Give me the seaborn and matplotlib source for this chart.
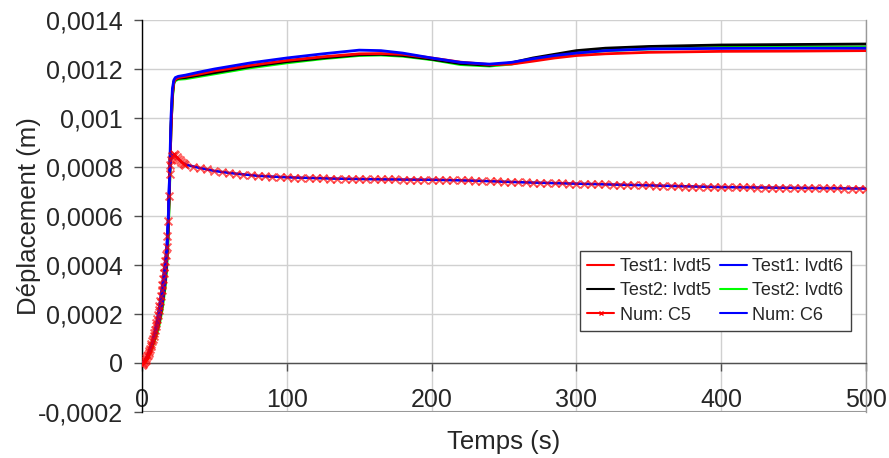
import numpy as np
import pandas as pd
import matplotlib
matplotlib.use("Agg")
import matplotlib.pyplot as plt
from matplotlib.lines import Line2D
import seaborn as sns

# values are in 1e-4 m, converted to m below
test_time = [0, 2, 4, 6, 8, 10, 12, 14, 16, 17, 18, 19, 20, 21, 22, 23, 25, 30, 40, 50,
             75, 100, 125, 150, 165, 180, 200, 220, 240, 255, 270, 285, 300, 320, 350, 400, 450, 500]
test1_lvdt5 = [0, 0.08, 0.3, 0.6, 0.95, 1.35, 1.8, 2.5, 3.4, 4.2, 5.5, 7.3, 9.5, 11.0, 11.45, 11.58, 11.65, 11.7, 11.8, 11.92,
               12.15, 12.35, 12.5, 12.62, 12.63, 12.6, 12.45, 12.28, 12.18, 12.2, 12.32, 12.45, 12.55, 12.62, 12.68, 12.72, 12.73, 12.75]
test1_lvdt6 = [0, 0.08, 0.3, 0.6, 0.95, 1.35, 1.8, 2.5, 3.4, 4.3, 5.7, 7.6, 10.0, 11.2, 11.55, 11.65, 11.7, 11.75, 11.88, 12.0,
               12.25, 12.45, 12.62, 12.77, 12.75, 12.65, 12.45, 12.27, 12.2, 12.27, 12.42, 12.55, 12.65, 12.75, 12.82, 12.84, 12.85, 12.85]
test2_lvdt5 = [0, 0.06, 0.26, 0.55, 0.9, 1.28, 1.72, 2.4, 3.3, 4.1, 5.3, 7.2, 9.5, 10.9, 11.5, 11.56, 11.62, 11.65, 11.75, 11.85,
               12.1, 12.3, 12.45, 12.58, 12.6, 12.55, 12.4, 12.22, 12.15, 12.25, 12.45, 12.6, 12.75, 12.85, 12.92, 12.98, 13.0, 13.02]
test2_lvdt6 = [0, 0.03, 0.2, 0.48, 0.8, 1.15, 1.58, 2.2, 3.1, 3.8, 4.9, 7.0, 9.6, 10.8, 11.4, 11.52, 11.58, 11.6, 11.7, 11.8,
               12.05, 12.25, 12.42, 12.55, 12.57, 12.52, 12.38, 12.18, 12.12, 12.2, 12.38, 12.53, 12.65, 12.75, 12.82, 12.88, 12.9, 12.9]

num_time = list(np.arange(0, 20.5, 0.5)) + list(range(21, 30)) + list(range(30, 505, 5))
num_c5 = [-0.10, -0.06, -0.02, 0.03, 0.08, 0.14, 0.20, 0.27, 0.34, 0.42,
          0.50, 0.59, 0.68, 0.78, 0.88, 0.99, 1.10, 1.22, 1.35, 1.49,
          1.64, 1.80, 1.97, 2.15, 2.34, 2.54, 2.75, 2.97, 3.20, 3.44,
          3.68, 3.92, 4.16, 4.42, 4.75, 5.20, 5.80, 6.80, 7.70, 8.10, 8.30,
          8.45, 8.52, 8.48, 8.40, 8.33, 8.27, 8.22, 8.18, 8.14,
          8.10, 8.02, 7.96, 7.90, 7.84, 7.80, 7.76, 7.72, 7.69, 7.66,
          7.64, 7.62, 7.60, 7.59, 7.58, 7.57, 7.56, 7.55, 7.55, 7.54,
          7.53, 7.52, 7.52, 7.51, 7.50, 7.50, 7.50, 7.49, 7.49, 7.49,
          7.48, 7.48, 7.48, 7.48, 7.48, 7.48, 7.47, 7.47, 7.46, 7.45,
          7.44, 7.43, 7.42, 7.41, 7.40, 7.39, 7.38, 7.37, 7.36, 7.35,
          7.34, 7.33, 7.33, 7.32, 7.32, 7.31, 7.30, 7.30, 7.29, 7.28,
          7.28, 7.27, 7.27, 7.26, 7.25, 7.24, 7.23, 7.22, 7.21, 7.20,
          7.20, 7.19, 7.19, 7.18, 7.18, 7.18, 7.17, 7.17, 7.17, 7.16,
          7.16, 7.16, 7.15, 7.15, 7.15, 7.14, 7.14, 7.14, 7.13, 7.13,
          7.13, 7.12, 7.12, 7.12, 7.12]

num_c6_time = [0, 2, 4, 6, 8, 10, 12, 14, 15, 16, 17, 18, 19, 20, 21, 22, 24, 27, 30, 40,
               50, 60, 80, 100, 130, 160, 200, 230, 260, 300, 350, 400, 450, 500]
num_c6 = [-0.10, 0.08, 0.34, 0.68, 1.10, 1.64, 2.34, 3.20, 3.68, 4.16, 4.75, 5.80, 7.70, 8.30, 8.45, 8.52, 8.40, 8.22, 8.10, 7.96,
          7.84, 7.76, 7.64, 7.58, 7.53, 7.50, 7.48, 7.44, 7.38, 7.32, 7.25, 7.18, 7.15, 7.12]

x_ticks = [0, 100, 200, 300, 400, 500]
y_ticks = [-0.0002, 0, 0.0002, 0.0004, 0.0006, 0.0008, 0.001, 0.0012, 0.0014]
y_tick_labels = ["-0,0002", "0", "0,0002", "0,0004", "0,0006", "0,0008", "0,001", "0,0012", "0,0014"]

tests = pd.DataFrame({"t": test_time,
                      "Test1: lvdt5": np.array(test1_lvdt5) * 1e-4,
                      "Test1: lvdt6": np.array(test1_lvdt6) * 1e-4,
                      "Test2: lvdt5": np.array(test2_lvdt5) * 1e-4,
                      "Test2: lvdt6": np.array(test2_lvdt6) * 1e-4})
num5 = pd.DataFrame({"t": num_time, "d": np.array(num_c5) * 1e-4})
num6 = pd.DataFrame({"t": num_c6_time, "d": np.array(num_c6) * 1e-4})

sns.set_style("white")
plt.rcParams['font.family'] = ['Liberation Sans', 'DejaVu Sans']

fig = plt.figure(figsize=(8.89, 4.58), dpi=100)
ax = fig.add_axes([142/889, 1 - 412/458, 724/889, 392/458])

colors = {"Test1: lvdt5": "#ff0000", "Test1: lvdt6": "#0000ff",
          "Test2: lvdt5": "#000000", "Test2: lvdt6": "#00ff00"}
for name in ["Test2: lvdt6", "Test2: lvdt5", "Test1: lvdt5", "Test1: lvdt6"]:
    sns.lineplot(data=tests, x="t", y=name, color=colors[name], lw=2, ax=ax,
                 sort=False, estimator=None, zorder=3)

# Num C5: thin red line under the blue C6 line, x markers on top
sns.lineplot(data=num5, x="t", y="d", color="#ff0000", lw=1.2, ax=ax,
             sort=False, estimator=None, zorder=3.5)
sns.lineplot(data=num6, x="t", y="d", color="#0000ff", lw=1.8, ax=ax,
             sort=False, estimator=None, zorder=4)
sns.scatterplot(data=num5, x="t", y="d", color="#ff0000", marker="x", s=32,
                linewidth=1.4, alpha=0.65, ax=ax, zorder=5)

ax.set_xlim(0, 500)
ax.set_ylim(-0.0002, 0.0014)
ax.set_xticks(x_ticks)
ax.set_xticklabels([str(v) for v in x_ticks])
ax.set_yticks(y_ticks)
ax.set_yticklabels(y_tick_labels)

ax.grid(True, color="#d0d0d0", lw=1)
ax.set_axisbelow(True)
ax.spines['bottom'].set_position(('data', 0))
ax.spines['bottom'].set_color("#505050")
ax.spines['left'].set_color("#000000")
ax.spines['right'].set_color("#999999")
ax.spines['top'].set_visible(False)
ax.axhline(ax.get_ylim()[0], color="#999999", lw=1.5, zorder=1)
for s in ax.spines.values():
    s.set_linewidth(1)

ax.tick_params(axis='x', direction='out', length=6, width=1, color="#505050",
               pad=12, labelsize=18, bottom=True)
ax.tick_params(axis='y', direction='out', length=6, width=1, color="#505050",
               pad=8, labelsize=18, left=True)

ax.set_xlabel("Temps (s)", fontsize=18.5)
ax.set_ylabel("Déplacement (m)", fontsize=18.5)
ax.xaxis.set_label_coords(0.5, -0.046)
ax.yaxis.set_label_coords(-0.14, 0.5)

handles = [Line2D([], [], color="#ff0000", lw=1.5),
           Line2D([], [], color="#000000", lw=1.5),
           Line2D([], [], color="#ff0000", lw=1.5, marker="x", ms=3),
           Line2D([], [], color="#0000ff", lw=1.5),
           Line2D([], [], color="#00ff00", lw=1.5),
           Line2D([], [], color="#0000ff", lw=1.5)]
labels = ["Test1: lvdt5", "Test2: lvdt5", "Num: C5", "Test1: lvdt6", "Test2: lvdt6", "Num: C6"]
leg = ax.legend(handles, labels, ncol=2, loc="upper left", bbox_to_anchor=(0.605, 0.411),
                borderaxespad=0, fontsize=13, frameon=True, fancybox=False, framealpha=1,
                edgecolor="#404040", handlelength=1.5, handletextpad=0.3, columnspacing=0.5,
                labelspacing=0.4, borderpad=0.4)
leg.get_frame().set_linewidth(1)
leg.set_zorder(10)

fig.savefig("out.png", dpi=100)
